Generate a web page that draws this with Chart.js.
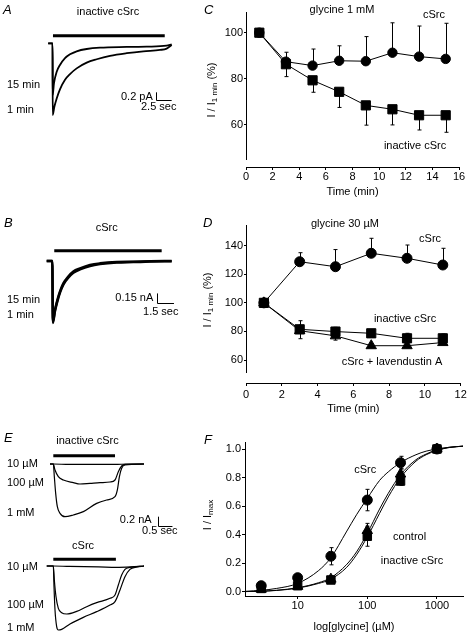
<!DOCTYPE html>
<html>
<head>
<meta charset="utf-8">
<script src="https://cdn.jsdelivr.net/npm/chart.js@4"></script>
<style>
  body { margin: 0; background: #fff; }
  #page { position: relative; width: 470px; height: 638px; overflow: hidden; }
  canvas { position: absolute; }
  .letter { position: absolute; font: italic 13px 'Liberation Sans', Arial, sans-serif; line-height: 13px; }
</style>
</head>
<body>
<div id="page">
  <canvas id="cA" width="200" height="200" style="left:0;top:0"></canvas>
  <canvas id="cB" width="200" height="220" style="left:0;top:200px"></canvas>
  <canvas id="cE1" width="200" height="120" style="left:0;top:420px"></canvas>
  <canvas id="cE2" width="200" height="108" style="left:0;top:530px"></canvas>
  <canvas id="cC" width="270" height="200" style="left:200px;top:0"></canvas>
  <canvas id="cD" width="270" height="210" style="left:200px;top:210px"></canvas>
  <canvas id="cF" width="270" height="218" style="left:200px;top:420px"></canvas>
  <div class="letter" style="left:3px;top:3px">A</div>
  <div class="letter" style="left:204px;top:3px">C</div>
  <div class="letter" style="left:4px;top:216px">B</div>
  <div class="letter" style="left:203px;top:216px">D</div>
  <div class="letter" style="left:4px;top:431px">E</div>
  <div class="letter" style="left:204px;top:433px">F</div>
</div>
<script>
// ---- Panel A: inactive cSrc, currents at 15 min and 1 min (time s, current pA)
const tA15 = [1.3, 2.0, 2.01, 2.22, 2.65, 3.17, 3.97, 4.76, 5.82, 7.41, 9.52, 13.76, 16.93, 20.1, 20.9];
const iA15 = [0, 0, -1.36, -1.05, -0.75, -0.57, -0.39, -0.29, -0.21, -0.15, -0.114, -0.096, -0.088, -0.061, -0.026];
const tA1 = [1.3, 2.0, 2.01, 2.28, 2.65, 3.17, 3.97, 4.76, 5.82, 7.41, 9.0, 11.11, 13.76, 16.4, 19.05, 20.1, 20.9];
const iA1 = [0, 0, -1.89, -1.67, -1.45, -1.21, -0.96, -0.81, -0.66, -0.51, -0.42, -0.33, -0.26, -0.21, -0.175, -0.14, -0.044];
const glyA = [2.06, 19.8];          // glycine application (s)

// ---- Panel B: cSrc (time s, current nA)
const tB = [0.58, 1.07, 1.12, 1.30, 1.51, 1.74, 2.03, 2.46, 2.90, 3.48, 4.35, 5.22, 6.67, 8.12, 9.57, 11.45];
const iB15 = [0, 0, -0.98, -0.79, -0.63, -0.49, -0.36, -0.25, -0.17, -0.12, -0.065, -0.038, -0.016, -0.011, -0.005, 0];
const iB1 = [0, 0, -1.0, -0.81, -0.65, -0.51, -0.38, -0.27, -0.19, -0.135, -0.08, -0.05, -0.025, -0.018, -0.01, -0.003];
const glyB = [1.24, 10.58];

// ---- Panel E: 10 uM, 100 uM, 1 mM glycine (time s, current nA)
const tE10 = [0.34, 0.455, 1.0, 2.0, 2.56, 3.0, 3.55];
const iE10 = [0, 0, -0.01, -0.01, -0.01, 0, 0];
const tE100 = [0.34, 0.455, 0.512, 0.626, 0.796, 1.138, 1.365, 1.706, 2.048, 2.389, 2.56, 2.673, 2.787, 2.90, 3.55];
const iE100 = [0, 0, -0.129, -0.272, -0.344, -0.401, -0.430, -0.416, -0.401, -0.387, -0.344, -0.165, -0.043, -0.007, 0];
const tE1m = [0.34, 0.455, 0.489, 0.535, 0.592, 0.683, 0.853, 1.138, 1.479, 1.934, 2.275, 2.56, 2.64, 2.71, 2.787, 2.90, 3.55];
const iE1m = [0, 0, -0.272, -0.631, -0.918, -1.061, -1.133, -1.097, -1.025, -0.846, -0.774, -0.703, -0.559, -0.272, -0.093, -0.022, 0];
const tEs10 = [0.23, 0.455, 1.0, 2.0, 2.6, 3.1, 3.55];
const iEs10 = [0, 0, -0.01, -0.02, -0.03, -0.02, 0];
const tEs100 = [0.23, 0.455, 0.489, 0.546, 0.626, 0.739, 0.91, 1.251, 1.593, 1.934, 2.389, 2.56, 2.673, 2.787, 2.90, 3.07, 3.55];
const iEs100 = [0, 0, -0.301, -0.659, -0.910, -1.004, -1.032, -0.975, -0.875, -0.789, -0.695, -0.624, -0.409, -0.194, -0.072, -0.029, 0];
const tEs1m = [0.23, 0.455, 0.478, 0.512, 0.569, 0.626, 0.739, 1.024, 1.479, 1.934, 2.389, 2.56, 2.73, 2.90, 3.07, 3.30, 3.55];
const iEs1m = [0, 0, -0.444, -0.946, -1.305, -1.376, -1.362, -1.247, -1.104, -0.982, -0.839, -0.767, -0.516, -0.229, -0.072, -0.022, 0];
const glyE1 = [0.454, 2.56];
const glyE2 = [0.454, 2.59];

// ---- Panel C: glycine 1 mM, I / I1min (%)
const timeC = [1, 3, 5, 7, 9, 11, 13, 15];
const cSrcC = [100, 87.4, 85.7, 87.8, 87.6, 91.3, 89.6, 88.6];
const cSrcC_err = [0, 4.1, 7.2, 6.5, 10.7, 13, 13.3, 15.5];
const inactC = [100, 86.3, 79.3, 74.3, 68.4, 66.7, 64.1, 64.1];
const inactC_err = [0, 5.4, 5.2, 6.8, 8.6, 6.8, 6.4, 7.4];
const yTicksC = [60, 80, 100];

// ---- Panel D: glycine 30 uM
const timeD = [1, 3, 5, 7, 9, 11];
const cSrcD = [100, 128.8, 125.3, 134.7, 131.2, 126.5];
const cSrcD_err = [0, 6.3, 12, 10.5, 9.3, 11.7];
const inactD = [100, 81.5, 79.9, 78.7, 75.2, 75.2];
const inactD_err = [0, 6, 3, 0, 3.5, 3];
const lavD = [100, 80.5, 76.9, 70, 70, 72.2];
const lavD_err = [0, 5.6, 3, 0, 0, 0];
const yTicksD = [60, 80, 100, 120, 140];

// ---- Panel F: dose response, I / Imax
const concF = [3, 10, 30, 100, 300, 1000];
const cSrcF = [0.044, 0.10, 0.25, 0.643, 0.904, 1.0];
const cSrcF_err = [0.015, 0.02, 0.06, 0.075, 0.045, 0];
const controlF = [0.02, 0.04, 0.09, 0.43, 0.825, 1.0];
const controlF_err = [0, 0, 0.02, 0.05, 0.04, 0];
const inactF = [0.025, 0.044, 0.084, 0.39, 0.776, 1.0];
const inactF_err = [0, 0, 0.02, 0.07, 0.03, 0];
// fitted curves
const fitX = [1.8, 3, 5, 10, 20, 30, 50, 70, 100, 150, 200, 300, 500, 700, 1000, 1500, 2400];
const fitCSrc = [0.005, 0.012, 0.025, 0.06, 0.15, 0.24, 0.42, 0.54, 0.655, 0.78, 0.84, 0.905, 0.96, 0.985, 1.0, 1.012, 1.02];
const fitControl = [0.003, 0.006, 0.012, 0.03, 0.065, 0.1, 0.19, 0.28, 0.41, 0.58, 0.69, 0.82, 0.925, 0.965, 0.995, 1.012, 1.02];
const fitInact = [0.003, 0.005, 0.011, 0.027, 0.06, 0.09, 0.17, 0.26, 0.385, 0.55, 0.665, 0.80, 0.915, 0.96, 0.99, 1.01, 1.02];
const xTicksF = [10, 100, 1000];
const yTicksF = [0, 0.2, 0.4, 0.6, 0.8, 1.0];

const FONT = "'Liberation Sans', Arial, sans-serif";

function xy(xs, ys) {
    return xs.map((x, k) => ({ x: x, y: ys[k] }));
}

// error bars, glycine bars, scale bars, labels and y titles
const extras = {
    id: 'extras',
    beforeDatasetsDraw(chart, args, o) {
        const ctx = chart.ctx;
        const ys = chart.scales.y;
        chart.data.datasets.forEach((ds, di) => {
            if (!ds.errUp && !ds.errDown) return;
            const meta = chart.getDatasetMeta(di);
            ctx.save();
            ctx.strokeStyle = '#000';
            ctx.lineWidth = 1;
            meta.data.forEach((pt, k) => {
                const v = ds.data[k].y;
                const errs = [ds.errUp ? ds.errUp[k] : 0, ds.errDown ? -ds.errDown[k] : 0];
                errs.forEach(e => {
                    if (!e) return;
                    const yy = ys.getPixelForValue(v + e);
                    const x = Math.round(pt.x) + 0.5;
                    ctx.beginPath();
                    ctx.moveTo(x, pt.y);
                    ctx.lineTo(x, yy);
                    ctx.moveTo(x - 2, yy);
                    ctx.lineTo(x + 2, yy);
                    ctx.stroke();
                });
            });
            ctx.restore();
        });
    },
    afterDraw(chart, args, o) {
        const ctx = chart.ctx, xs = chart.scales.x, ys = chart.scales.y, a = chart.chartArea;
        ctx.save();
        ctx.strokeStyle = '#000';
        ctx.fillStyle = '#000';
        if (o.axisGap) { // y axis stops short of the x axis
            const x = Math.round(a.left - 0.5) + 0.5;
            ctx.lineWidth = 1;
            ctx.beginPath();
            ctx.moveTo(x, a.top);
            ctx.lineTo(x, a.bottom - o.axisGap);
            ctx.stroke();
        }
        if (o.bar) { // glycine application
            ctx.lineWidth = 3;
            ctx.beginPath();
            ctx.moveTo(xs.getPixelForValue(o.bar.from), ys.getPixelForValue(o.bar.at));
            ctx.lineTo(xs.getPixelForValue(o.bar.to), ys.getPixelForValue(o.bar.at));
            ctx.stroke();
        }
        if (o.scaleBar) {
            const s = o.scaleBar;
            const x0 = Math.round(xs.getPixelForValue(s.t)) + 0.5;
            const y0 = Math.round(ys.getPixelForValue(s.i)) + 0.5;
            ctx.lineWidth = 1;
            ctx.beginPath();
            ctx.moveTo(x0, ys.getPixelForValue(s.i + s.di));
            ctx.lineTo(x0, y0);
            ctx.lineTo(xs.getPixelForValue(s.t + s.dt), y0);
            ctx.stroke();
        }
        (o.labels || []).forEach(l => {
            ctx.font = (l.size || 11) + 'px ' + FONT;
            ctx.textAlign = l.align || 'center';
            ctx.textBaseline = 'middle';
            ctx.fillText(l.text, xs.getPixelForValue(l.x), ys.getPixelForValue(l.y));
        });
        if (o.yTitle) { // rotated title with subscript
            const t = o.yTitle, size = 11;
            ctx.translate(t.x, t.y);
            ctx.rotate(-Math.PI / 2);
            ctx.textAlign = 'left';
            ctx.textBaseline = 'middle';
            const fonts = t.parts.map(p => (p.sub ? 8 : size) + 'px ' + FONT);
            let w = 0;
            t.parts.forEach((p, k) => { ctx.font = fonts[k]; w += ctx.measureText(p.text).width; });
            let cx = -w / 2;
            t.parts.forEach((p, k) => {
                ctx.font = fonts[k];
                ctx.fillText(p.text, cx, p.sub ? 3 : 0);
                cx += ctx.measureText(p.text).width;
            });
        }
        ctx.restore();
    }
};

Chart.register(extras);
Chart.defaults.font.family = FONT;
Chart.defaults.font.size = 11;
Chart.defaults.color = '#000';
Chart.defaults.animation = false;
Chart.defaults.responsive = false;
Chart.defaults.plugins.legend.display = false;
Chart.defaults.plugins.tooltip.enabled = false;

function traceChart(id, sets, opt) {
    return new Chart(document.getElementById(id), {
        type: 'line',
        data: {
            datasets: sets.map(s => ({
                data: xy(s[0], s[1]),
                borderColor: '#000',
                borderWidth: s[2] || 1.2,
                pointRadius: 0,
                cubicInterpolationMode: 'monotone'
            }))
        },
        options: {
            layout: { padding: opt.pad },
            scales: {
                x: { type: 'linear', display: false, min: opt.x[0], max: opt.x[1] },
                y: { display: false, min: opt.y[0], max: opt.y[1] }
            },
            plugins: { extras: opt.extras }
        }
    });
}

// A
traceChart('cA', [[tA15, iA15, 1.8], [tA1, iA1, 1.8]], {
    pad: { left: 40, right: 2.5, top: 20.5, bottom: 61.7 },
    x: [0, 25], y: [-2.5, 0.6],
    extras: {
        bar: { from: glyA[0], to: glyA[1], at: 0.2 },
        scaleBar: { t: 18.4, i: -1.49, dt: 2.5, di: 0.2 },
        labels: [
            { text: 'inactive cSrc', x: 10.8, y: 0.82 },
            { text: '15 min', x: -5.24, y: -1.1, align: 'left' },
            { text: '1 min', x: -5.24, y: -1.76, align: 'left' },
            { text: '0.2 pA', x: 17.9, y: -1.405, align: 'right' },
            { text: '2.5 sec', x: 18.84, y: -1.68 }
        ]
    }
});

// B
traceChart('cB', [[tB, iB15, 2.5], [tB, iB1, 2.5]], {
    pad: { left: 40, right: 4.75, top: 45.5, bottom: 66 },
    x: [0, 13.5], y: [-1.5, 0.25],
    extras: {
        bar: { from: glyB[0], to: glyB[1], at: 0.166 },
        scaleBar: { t: 10.15, i: -0.673, dt: 1.5, di: 0.15 },
        labels: [
            { text: 'cSrc', x: 5.8, y: 0.54 },
            { text: '15 min', x: -2.87, y: -0.63, align: 'left' },
            { text: '1 min', x: -2.87, y: -0.87, align: 'left' },
            { text: '0.15 nA', x: 9.85, y: -0.60, align: 'right' },
            { text: '1.5 sec', x: 10.5, y: -0.82 }
        ]
    }
});

// E, inactive cSrc
traceChart('cE1', [[tE10, iE10], [tE100, iE100], [tE1m, iE1m]], {
    pad: { left: 40, right: 4.7, top: 25.4, bottom: 1.6 },
    x: [0, 5.3], y: [-1.6, 0.4],
    extras: {
        bar: { from: glyE1[0], to: glyE1[1], at: 0.178 },
        scaleBar: { t: 4.02, i: -1.333, dt: 0.5, di: 0.2 },
        labels: [
            { text: 'inactive cSrc', x: 1.62, y: 0.5 },
            { text: '10 µM', x: -1.126, y: 0, align: 'left' },
            { text: '100 µM', x: -1.126, y: -0.415, align: 'left' },
            { text: '1 mM', x: -1.126, y: -1.06, align: 'left' },
            { text: '0.2 nA', x: 3.81, y: -1.204, align: 'right' },
            { text: '0.5 sec', x: 4.09, y: -1.44 }
        ]
    }
});

// E, cSrc
traceChart('cE2', [[tEs10, iEs10], [tEs100, iEs100], [tEs1m, iEs1m]], {
    pad: { left: 40, right: 4.7, top: 17.4, bottom: 2.25 },
    x: [0, 5.3], y: [-1.5, 0.4],
    extras: {
        bar: { from: glyE2[0], to: glyE2[1], at: 0.144 },
        labels: [
            { text: 'cSrc', x: 1.47, y: 0.43 },
            { text: '10 µM', x: -1.126, y: -0.03, align: 'left' },
            { text: '100 µM', x: -1.126, y: -0.84, align: 'left' },
            { text: '1 mM', x: -1.126, y: -1.34, align: 'left' }
        ]
    }
});

function marker(style, radius) {
    return {
        pointStyle: style, pointRadius: radius,
        pointBackgroundColor: '#000', pointBorderColor: '#000', pointBorderWidth: 1,
        borderColor: '#000', borderWidth: 1, tension: 0
    };
}

function timeChart(id, sets, opt) {
    return new Chart(document.getElementById(id), {
        type: 'line',
        data: { datasets: sets },
        options: {
            layout: { padding: opt.pad },
            scales: {
                x: {
                    type: 'linear', min: opt.x[0], max: opt.x[1],
                    ticks: { stepSize: 2, padding: opt.xTickPad, maxRotation: 0 },
                    grid: { drawOnChartArea: false, tickLength: 3, color: '#000' },
                    border: { color: '#000' },
                    title: { display: true, text: 'Time (min)', padding: { top: 0, bottom: opt.titlePad } },
                    afterFit: s => { s.height = opt.xHeight; }
                },
                y: {
                    min: opt.y[0], max: opt.y[1],
                    afterBuildTicks: s => { s.ticks = opt.yTicks.map(v => ({ value: v })); },
                    ticks: { padding: 1 },
                    grid: { drawOnChartArea: false, tickLength: 2, color: '#000' },
                    border: { display: false },
                    afterFit: s => { s.width = opt.yWidth; }
                }
            },
            plugins: { extras: opt.extras }
        }
    });
}

// C
timeChart('cC', [
    Object.assign({ data: xy(timeC, cSrcC), errUp: cSrcC_err }, marker('circle', 4.7)),
    Object.assign({ data: xy(timeC, inactC), errDown: inactC_err }, marker('rect', 6.5))
], {
    pad: { left: 0, right: 11, top: 12, bottom: 0 },
    x: [0, 16], y: [41.6, 109], yTicks: yTicksC,
    xHeight: 33, yWidth: 46, xTickPad: 0, titlePad: 1.4,
    extras: {
        axisGap: 7,
        labels: [
            { text: 'glycine 1 mM', x: 7.21, y: 109.9 },
            { text: 'cSrc', x: 14.12, y: 107.7 },
            { text: 'inactive cSrc', x: 12.7, y: 50.7 }
        ],
        yTitle: { x: 12, y: 90, parts: [{ text: 'I / I' }, { text: '1 min', sub: true }, { text: ' (%)' }] }
    }
});

// D
timeChart('cD', [
    Object.assign({ data: xy(timeD, cSrcD), errUp: cSrcD_err }, marker('circle', 5)),
    Object.assign({ data: xy(timeD, inactD), errUp: inactD_err }, marker('rect', 6.5)),
    Object.assign({ data: xy(timeD, lavD), errDown: lavD_err }, marker('triangle', 6))
], {
    pad: { left: 0, right: 9.3, top: 15, bottom: 0 },
    x: [0, 12], y: [43.9, 154.5], yTicks: yTicksD,
    xHeight: 37, yWidth: 46, xTickPad: 2, titlePad: 4.4,
    extras: {
        axisGap: 10,
        labels: [
            { text: 'glycine 30 µM', x: 5.53, y: 155.2 },
            { text: 'cSrc', x: 10.29, y: 144.7 },
            { text: 'inactive cSrc', x: 8.89, y: 88.7 },
            { text: 'cSrc + lavendustin A', x: 8.16, y: 58.7 }
        ],
        yTitle: { x: 8, y: 90, parts: [{ text: 'I / I' }, { text: '1 min', sub: true }, { text: ' (%)' }] }
    }
});

// F
function fitLine(ys) {
    return { data: xy(fitX, ys), borderColor: '#000', borderWidth: 1, pointRadius: 0, cubicInterpolationMode: 'monotone' };
}
new Chart(document.getElementById('cF'), {
    type: 'line',
    data: {
        datasets: [
            Object.assign({ data: xy(concF, cSrcF), errUp: cSrcF_err, errDown: cSrcF_err, showLine: false }, marker('circle', 5)),
            Object.assign({ data: xy(concF, controlF), errUp: controlF_err, errDown: controlF_err, showLine: false }, marker('triangle', 6)),
            Object.assign({ data: xy(concF, inactF), errUp: inactF_err, errDown: inactF_err, showLine: false }, marker('rect', 6)),
            fitLine(fitCSrc),
            fitLine(fitControl),
            fitLine(fitInact)
        ]
    },
    options: {
        layout: { padding: { left: 0, right: 4.3, top: 22, bottom: 0 } },
        scales: {
            x: {
                type: 'logarithmic', min: 1.754, max: 2366,
                afterBuildTicks: s => { s.ticks = xTicksF.map(v => ({ value: v })); },
                ticks: { padding: 0.5, maxRotation: 0, callback: v => String(v) },
                grid: { drawOnChartArea: false, tickLength: 3, color: '#000' },
                border: { color: '#000' },
                title: { display: true, text: 'log[glycine] (µM)', padding: { top: 0, bottom: 4.7 } },
                afterFit: s => { s.height = 42; }
            },
            y: {
                min: -0.028, max: 1.049,
                afterBuildTicks: s => { s.ticks = yTicksF.map(v => ({ value: v })); },
                ticks: { padding: 1, callback: v => v.toFixed(1) },
                grid: { drawOnChartArea: false, tickLength: 3, color: '#000' },
                border: { color: '#000' },
                afterFit: s => { s.width = 45; }
            }
        },
        plugins: {
            extras: {
                labels: [
                    { text: 'cSrc', x: 93.3, y: 0.853 },
                    { text: 'control', x: 405, y: 0.387 },
                    { text: 'inactive cSrc', x: 438, y: 0.219 }
                ],
                yTitle: { x: 8, y: 95, parts: [{ text: 'I / I' }, { text: 'max', sub: true }] }
            }
        }
    }
});
</script>
</body>
</html>
